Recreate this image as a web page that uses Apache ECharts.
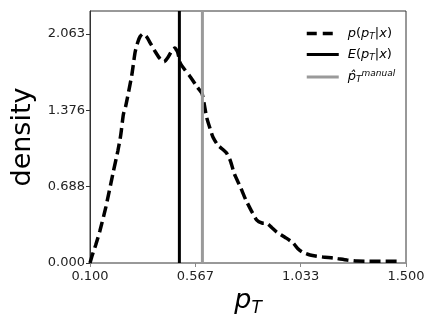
<!DOCTYPE html>
<html>
<head>
<meta charset="utf-8">
<script src="https://cdn.jsdelivr.net/npm/echarts@6/dist/echarts.min.js"></script>
<style>
    html, body { margin: 0; padding: 0; background: #fff; }
    #chart { width: 436px; height: 326px; }
</style>
</head>
<body>
<div id="chart"></div>
<script>
// density curve p(pT|x)
var arrPT = [0.100, 0.110, 0.125, 0.144, 0.171, 0.202, 0.224, 0.236, 0.248, 0.258,
    0.285, 0.300, 0.312, 0.322, 0.335, 0.350, 0.370, 0.390, 0.410, 0.428,
    0.445, 0.462, 0.476, 0.488, 0.500, 0.520, 0.543, 0.575, 0.596, 0.607,
    0.617, 0.632, 0.645, 0.667, 0.690, 0.705, 0.722, 0.740, 0.765, 0.791,
    0.815, 0.839, 0.862, 0.885, 0.905, 0.928, 0.965, 1.000, 1.020, 1.040,
    1.075, 1.132, 1.177, 1.239, 1.283, 1.354, 1.420, 1.480];
var arrDensity = [0.000, 0.070, 0.160, 0.290, 0.510, 0.810, 1.015, 1.150, 1.340, 1.410,
    1.690, 1.900, 1.990, 2.040, 2.063, 2.040, 1.970, 1.900, 1.840, 1.812,
    1.850, 1.910, 1.935, 1.900, 1.800, 1.740, 1.680, 1.585, 1.527, 1.420,
    1.310, 1.210, 1.132, 1.060, 1.020, 0.990, 0.920, 0.800, 0.690, 0.566,
    0.470, 0.386, 0.360, 0.356, 0.320, 0.278, 0.230, 0.180, 0.130, 0.099,
    0.072, 0.054, 0.045, 0.027, 0.018, 0.016, 0.016, 0.014];

// vertical markers
var fExpectedPT = 0.496;
var fManualPT = 0.598;

// ticks
var arrXTicks = [0.1, 0.5667, 1.0333, 1.5];
var arrXTickLabels = ['0.100', '0.567', '1.033', '1.500'];
var arrYTicks = [0, 0.6877, 1.3753, 2.063];
var arrYTickLabels = ['0.000', '0.688', '1.376', '2.063'];
var fYMax = 2.063 * 1.1;

var _tickLabel = function (arrTicks, arrLabels, v) {
    for (var i = 0; i < arrTicks.length; i++) {
        if (Math.abs(arrTicks[i] - v) < 1e-3) return arrLabels[i];
    }
    return '';
};

var _pairs = function (arrX, arrY) {
    var arr = [];
    for (var i = 0; i < arrX.length; i++) arr.push([arrX[i], arrY[i]]);
    return arr;
};

var strFont = 'DejaVu Sans';
var oRichLegend = {
    i: { fontFamily: strFont, fontStyle: 'italic', fontSize: 13, color: '#000' },
    n: { fontFamily: strFont, fontSize: 13, color: '#000' },
    sub: { fontFamily: strFont, fontStyle: 'italic', fontSize: 9, color: '#000', padding: [6, 0, 0, 0] },
    sup: { fontFamily: strFont, fontStyle: 'italic', fontSize: 9, color: '#000', padding: [0, 0, 7, 0] }
};
var oNoSymbol = { color: 'transparent', borderWidth: 0, opacity: 0 };

var m_oChart = echarts.init(document.getElementById('chart'), null, { renderer: 'canvas' });

var option = {
    animation: false,
    grid: {
        left: 90, right: 30, top: 11, bottom: 63,
        show: true, borderColor: '#333', borderWidth: 1, backgroundColor: 'transparent'
    },
    legend: {
        orient: 'vertical',
        left: 300,
        top: 22,
        itemWidth: 32,
        itemHeight: 14,
        itemGap: 7,
        data: [
            { name: 'p', itemStyle: oNoSymbol, lineStyle: { color: '#000', width: 3.5, type: [10, 6] } },
            { name: 'E', itemStyle: oNoSymbol, lineStyle: { color: '#000', width: 3, type: 'solid' } },
            { name: 'manual', itemStyle: oNoSymbol, lineStyle: { color: '#9a9a9a', width: 3, type: 'solid' } }
        ],
        formatter: function (name) {
            if (name === 'p') return '{i|p}{n|(}{i|p}{sub|T}{n||}{i|x}{n|)}';
            if (name === 'E') return '{i|E}{n|(}{i|p}{sub|T}{n||}{i|x}{n|)}';
            return '{i|p\u0302}{sub|T}{sup|manual}';
        },
        textStyle: { rich: oRichLegend, padding: [0, 0, 0, 4] }
    },
    xAxis: {
        type: 'value',
        min: 0.1,
        max: 1.5,
        name: '{p|p}{s|T}',
        nameLocation: 'middle',
        nameGap: 16,
        nameTextStyle: {
            rich: {
                p: { fontFamily: strFont, fontStyle: 'italic', fontSize: 27, color: '#000' },
                s: { fontFamily: strFont, fontStyle: 'italic', fontSize: 17, color: '#000', padding: [14, 0, 0, 0] }
            }
        },
        axisLine: { show: true, onZero: false, lineStyle: { color: '#999', width: 1.5 } },
        axisTick: { show: true, length: 4, customValues: arrXTicks, lineStyle: { color: '#888' } },
        axisLabel: {
            customValues: arrXTicks,
            fontFamily: strFont, fontSize: 13, color: '#222', margin: 7,
            formatter: function (v) { return _tickLabel(arrXTicks, arrXTickLabels, v); }
        },
        splitLine: { show: false }
    },
    yAxis: {
        type: 'value',
        min: 0,
        max: fYMax,
        name: 'density',
        nameLocation: 'middle',
        nameRotate: 90,
        nameGap: 43,
        nameTextStyle: { fontFamily: strFont, fontSize: 27, color: '#000' },
        axisLine: { show: true, lineStyle: { color: '#333' } },
        axisTick: { show: true, length: 4, customValues: arrYTicks, lineStyle: { color: '#333' } },
        axisLabel: {
            customValues: arrYTicks,
            fontFamily: strFont, fontSize: 13, color: '#222', margin: 5,
            formatter: function (v) { return _tickLabel(arrYTicks, arrYTickLabels, v); }
        },
        splitLine: { show: false }
    },
    series: [
        {
            name: 'p',
            type: 'line',
            data: _pairs(arrPT, arrDensity),
            showSymbol: false,
            symbol: 'none',
            smooth: 0.2,
            lineStyle: { color: '#000', width: 3.5, type: [11, 5] },
            itemStyle: { color: '#000' }
        },
        {
            name: 'E',
            type: 'line',
            data: [[fExpectedPT, 0], [fExpectedPT, fYMax]],
            showSymbol: false,
            symbol: 'none',
            lineStyle: { color: '#000', width: 3 },
            itemStyle: { color: '#000' }
        },
        {
            name: 'manual',
            type: 'line',
            data: [[fManualPT, 0], [fManualPT, fYMax]],
            showSymbol: false,
            symbol: 'none',
            lineStyle: { color: '#9a9a9a', width: 3 },
            itemStyle: { color: '#9a9a9a' }
        }
    ]
};

m_oChart.setOption(option);
</script>
</body>
</html>
